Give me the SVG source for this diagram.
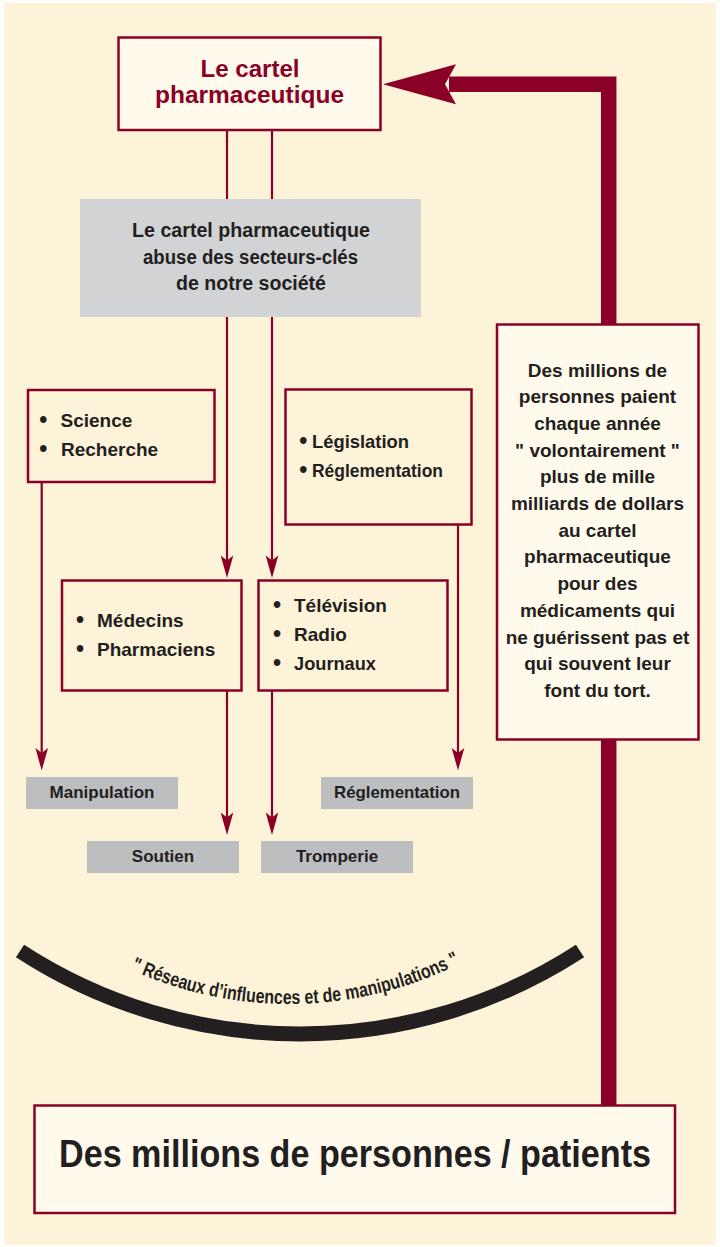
<svg xmlns="http://www.w3.org/2000/svg" width="720" height="1247" viewBox="0 0 720 1247">
<style>
.box{fill:#FDF3D8;stroke:#8B0026;stroke-width:2.5}
.lbox{fill:#FFFAEC;stroke:#8B0026;stroke-width:2.5}
.gray{fill:#D1D3D4}
.lab{fill:#BCBEC0}
.t{font-family:"Liberation Sans",Arial,sans-serif;font-weight:bold;fill:#231F20}
.b{font-family:"Liberation Sans",Arial,sans-serif;font-weight:bold;fill:#231F20;font-size:23px;text-anchor:middle}
.ln{stroke:#8B0026;stroke-width:2.2;fill:none}
</style>
<defs>
<marker id="ah" viewBox="-23 -7 24 14" refX="-10" refY="0" markerWidth="24" markerHeight="14" markerUnits="userSpaceOnUse" orient="auto">
<path d="M0,0 L-22.5,-6.3 L-17.5,0 L-22.5,6.3 Z" fill="#8B0026"/>
</marker>
<path id="arcText" d="M89,947.1 A380,380 0 0 0 489,947.1" fill="none"/>
</defs>
<rect x="4" y="3" width="712" height="1242" fill="#FDF3D8"/>

<g id="connectors">
<path class="ln" d="M227,130 V568" marker-end="url(#ah)"/>
<path class="ln" d="M272,130 V568" marker-end="url(#ah)"/>
<path class="ln" d="M41.7,482 V760.5" marker-end="url(#ah)"/>
<path class="ln" d="M458,524 V760.5" marker-end="url(#ah)"/>
<path class="ln" d="M227,690 V825" marker-end="url(#ah)"/>
<path class="ln" d="M272,690 V825" marker-end="url(#ah)"/>
<path d="M608.7,1105 V84.3 H449" fill="none" stroke="#8B0026" stroke-width="15.5" stroke-linejoin="miter"/>
<polygon points="383,84.3 456,64.3 445,84.3 456,104.3" fill="#8B0026"/>
</g>

<g id="cartel">
<rect class="lbox" x="118.5" y="37.5" width="262" height="92.5"/>
<text class="t" x="250" y="76.5" font-size="23" text-anchor="middle" textLength="99" lengthAdjust="spacingAndGlyphs" style="fill:#8B0026">Le cartel</text>
<text class="t" x="249.5" y="103" font-size="23" text-anchor="middle" textLength="189" lengthAdjust="spacingAndGlyphs" style="fill:#8B0026">pharmaceutique</text>
</g>

<g id="abuse">
<rect class="gray" x="80" y="199" width="341" height="118"/>
<text class="t" x="251" y="237.3" font-size="20" text-anchor="middle" textLength="238" lengthAdjust="spacingAndGlyphs">Le cartel pharmaceutique</text>
<text class="t" x="250.5" y="263.5" font-size="20" text-anchor="middle" textLength="215" lengthAdjust="spacingAndGlyphs">abuse des secteurs-clés</text>
<text class="t" x="251" y="290" font-size="20" text-anchor="middle" textLength="150" lengthAdjust="spacingAndGlyphs">de notre société</text>
</g>

<g id="science">
<rect class="box" x="28" y="390" width="186.5" height="92"/>
<text class="b" x="43.3" y="428">•</text>
<text class="t" x="60.5" y="427" font-size="19">Science</text>
<text class="b" x="43.3" y="457">•</text>
<text class="t" x="61" y="456" font-size="19">Recherche</text>
</g>

<g id="legislation">
<rect class="box" x="285.5" y="389.5" width="186" height="135"/>
<text class="b" x="303.3" y="449.3">•</text>
<text class="t" x="312" y="448.3" font-size="19" textLength="97" lengthAdjust="spacingAndGlyphs">Législation</text>
<text class="b" x="303.3" y="477.7">•</text>
<text class="t" x="312" y="476.7" font-size="19" textLength="131" lengthAdjust="spacingAndGlyphs">Réglementation</text>
</g>

<g id="medecins">
<rect class="box" x="62" y="580.5" width="179.5" height="110"/>
<text class="b" x="80" y="627.7">•</text>
<text class="t" x="97" y="626.7" font-size="19">Médecins</text>
<text class="b" x="80" y="657">•</text>
<text class="t" x="97" y="656" font-size="19">Pharmaciens</text>
</g>

<g id="medias">
<rect class="box" x="258.5" y="580.5" width="189" height="110"/>
<text class="b" x="277" y="613.3">•</text>
<text class="t" x="294" y="612.3" font-size="19">Télévision</text>
<text class="b" x="277" y="642">•</text>
<text class="t" x="294" y="641" font-size="19">Radio</text>
<text class="b" x="277" y="671">•</text>
<text class="t" x="294" y="670" font-size="19" textLength="82" lengthAdjust="spacingAndGlyphs">Journaux</text>
</g>

<g id="manipulation">
<rect class="lab" x="26" y="777" width="152" height="32"/>
<text class="t" x="102" y="798" font-size="17" text-anchor="middle">Manipulation</text>
</g>
<g id="reglementation">
<rect class="lab" x="321" y="777" width="152" height="32"/>
<text class="t" x="397" y="798" font-size="17" text-anchor="middle" textLength="126" lengthAdjust="spacingAndGlyphs">Réglementation</text>
</g>
<g id="soutien">
<rect class="lab" x="87" y="841" width="152" height="32"/>
<text class="t" x="163" y="862" font-size="17" text-anchor="middle">Soutien</text>
</g>
<g id="tromperie">
<rect class="lab" x="261" y="841" width="152" height="32"/>
<text class="t" x="337" y="862" font-size="17" text-anchor="middle">Tromperie</text>
</g>

<g id="paiement">
<rect class="lbox" x="497" y="324.5" width="201.5" height="415"/>
<g class="t" font-size="19" text-anchor="middle">
<text x="597.5" y="376.5">Des millions de</text>
<text x="597.5" y="403.2">personnes paient</text>
<text x="597.5" y="429.9">chaque année</text>
<text x="597.5" y="456.6">" volontairement "</text>
<text x="597.5" y="483.3">plus de mille</text>
<text x="597.5" y="510">milliards de dollars</text>
<text x="597.5" y="536.7">au cartel</text>
<text x="597.5" y="563.4">pharmaceutique</text>
<text x="597.5" y="590.1">pour des</text>
<text x="597.5" y="616.8">médicaments qui</text>
<text x="597.5" y="643.5">ne guérissent pas et</text>
<text x="597.5" y="670.2">qui souvent leur</text>
<text x="597.5" y="696.9">font du tort.</text>
</g>
</g>

<g id="reseaux">
<path d="M20,951 A513.8,513.8 0 0 0 580,951" fill="none" stroke="#231F20" stroke-width="15"/>
<text font-family="'Liberation Sans',Arial,sans-serif" font-size="20" font-weight="bold" fill="#231F20"><textPath href="#arcText" startOffset="47" textLength="341" lengthAdjust="spacingAndGlyphs">" Réseaux d’influences et de manipulations "</textPath></text>
</g>

<g id="personnes">
<rect class="lbox" x="34.5" y="1105.5" width="640.5" height="107.5"/>
<text class="t" x="355" y="1167" font-size="38" text-anchor="middle" textLength="592" lengthAdjust="spacingAndGlyphs">Des millions de personnes / patients</text>
</g>
</svg>
